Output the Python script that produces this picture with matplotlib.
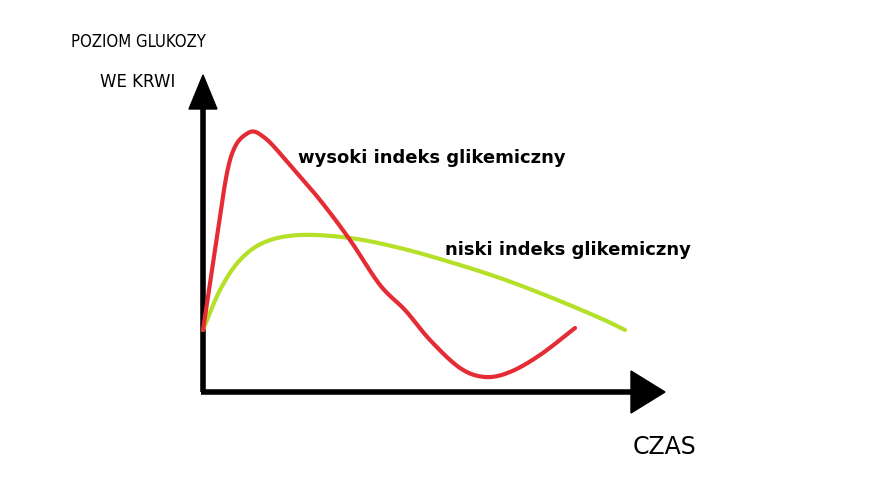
import matplotlib
matplotlib.use("Agg")
import matplotlib.pyplot as plt
import numpy as np

# time vs glucose (arbitrary units)
high_t = [0, 12, 27, 45, 62, 87, 117, 147, 177, 202, 227, 257, 282, 307, 337, 372]
high_g = [62, 142, 232, 259, 254, 227, 192, 152, 107, 82, 52, 24, 15, 20, 37, 64]
low_t = [0, 17, 37, 62, 97, 147, 197, 247, 297, 347, 397, 422]
low_g = [62, 102, 132, 150, 157, 154, 144, 130, 114, 95, 74, 62]
label_high = "wysoki indeks glikemiczny"
label_low = "niski indeks glikemiczny"
ylabel_lines = ["POZIOM GLUKOZY", "WE KRWI"]
xlabel = "CZAS"

def smooth(x, y, n=20):
    x = np.asarray(x, float); y = np.asarray(y, float)
    P = np.column_stack([x, y])
    P = np.vstack([P[0], P, P[-1]])
    out = []
    for i in range(1, len(P) - 2):
        p0, p1, p2, p3 = P[i-1], P[i], P[i+1], P[i+2]
        for t in np.linspace(0, 1, n, endpoint=False):
            t2, t3 = t*t, t*t*t
            out.append(0.5*((2*p1) + (-p0+p2)*t + (2*p0-5*p1+4*p2-p3)*t2 + (-p0+3*p1-3*p2+p3)*t3))
    out.append(P[-2])
    out = np.array(out)
    return out[:, 0], out[:, 1]

fig = plt.figure(figsize=(8.8, 4.8), dpi=100)
ax = fig.add_axes([0, 0, 1, 1])
ax.set_xlim(-203, 677)
ax.set_ylim(-88, 392)
ax.axis("off")

# axes with arrows
ax.plot([0, 0], [0, 285], color="black", lw=4, solid_capstyle="butt")
ax.plot([-2, 430], [0, 0], color="black", lw=4, solid_capstyle="butt")
ax.add_patch(plt.Polygon([[-14, 283], [14, 283], [0, 317]], color="black"))
ax.add_patch(plt.Polygon([[428, 21], [428, -21], [462, 0]], color="black"))

x, y = smooth(low_t, low_g)
ax.plot(x, y, color="#b5e02a", lw=3, solid_capstyle="round")
x, y = smooth(high_t, high_g)
ax.plot(x, y, color="#e52c35", lw=3, solid_capstyle="round")

ax.text(95, 234, label_high, fontsize=13, fontweight="bold", va="center", ha="left")
ax.text(242, 142, label_low, fontsize=13, fontweight="bold", va="center", ha="left")
ax.text(-65, 350, ylabel_lines[0], fontsize=12, ha="center", va="center", fontstretch="condensed", family="DejaVu Sans")
ax.text(-65, 310, ylabel_lines[1], fontsize=12, ha="center", va="center", family="DejaVu Sans")
ax.text(462, -55, xlabel, fontsize=17, ha="center", va="center")

fig.savefig("out.png", dpi=100, facecolor="white")
